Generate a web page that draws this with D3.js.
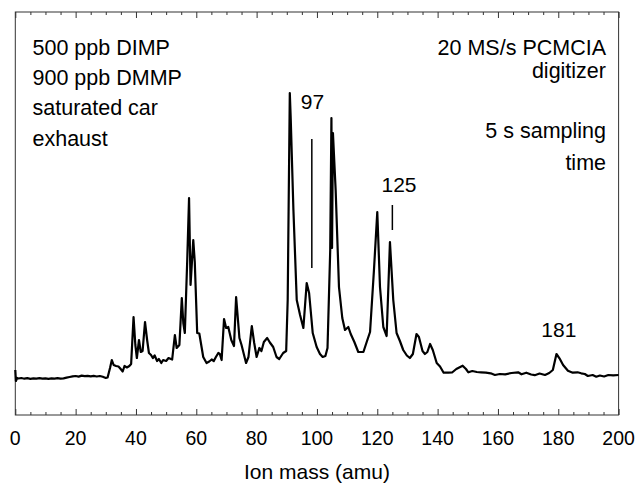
<!DOCTYPE html>
<html>
<head>
<meta charset="utf-8">
<script src="https://cdn.jsdelivr.net/npm/d3@7"></script>
<style>
  body { margin: 0; background: #fff; }
  svg { font-family: "Liberation Sans", Arial, Helvetica, sans-serif; }
</style>
</head>
<body>
<div class="graph-container"></div>
<script>
// spectrum (ion mass in amu, intensity in arbitrary units)
var masses = [0, 0.2, 0.6, 1, 2, 3, 4, 5, 6, 7, 8, 9, 10, 11, 12, 13, 14, 15, 16, 17, 18, 19, 20,
  21, 22, 23, 24, 25, 26, 27, 28, 29, 30, 30.6, 31.4, 32, 32.6, 33.4, 34.2, 34.8, 35.6, 36.2, 37,
  37.8, 38.4, 39.2, 39.8, 40.3, 41, 41.6, 42.2, 43, 43.7, 44.3, 45, 45.6, 46.2, 47, 47.6, 48.4, 49,
  50, 50.8, 52, 52.9, 53.5, 54.4, 55.2, 55.7, 56.2, 57, 57.6, 58.1, 59, 59.5, 60.3, 61, 62.3, 63.4,
  64.3, 65.1, 65.8, 66.5, 67.3, 67.8, 68.4, 69.2, 69.9, 70.6, 71.6, 72.5, 73.2, 74.3, 75, 76.5,
  77.3, 78.4, 79.2, 80, 80.9, 81.6, 82.4, 83.5, 84.4, 85.5, 86.6, 87.5, 88.8, 89.8, 90.3, 91, 91.3,
  92.2, 93.3, 94.4, 95.5, 96.6, 97.4, 98.6, 99.9, 101, 101.9, 102.8, 103.5, 104.4, 104.8, 105,
  105.3, 106.2, 107.3, 108.4, 109.3, 110.4, 111.2, 112.4, 113.7, 115.4, 116.6, 117.6, 118.9, 120,
  120.9, 122, 123.1, 124.2, 125.3, 126.4, 127.5, 128.6, 129.8, 130.8, 131.8, 133, 133.8, 135,
  135.8, 136.6, 137.5, 138.4, 139.7, 140.8, 142, 143.6, 144.8, 146.2, 148.3, 149.4, 150.2, 151.5,
  153, 154.4, 156, 157.6, 159, 160.6, 162.4, 164.5, 166.7, 167.8, 169.4, 171, 172.2, 173.8, 175.6,
  177, 178.2, 179.4, 180.4, 181.6, 183.2, 184.8, 186.4, 187.6, 188.8, 189.8, 191.4, 192.6, 193.8,
  195.2, 196.6, 198.2, 200];

var intensities = [45, 34, 37, 36.5, 37, 36.3, 36.8, 36.2, 36.7, 36.4, 36.9, 36.3, 36.7, 36.2, 36.6,
  36.4, 36.8, 36.3, 36.6, 37.4, 38, 38.6, 39, 38.4, 39.4, 38.8, 39.2, 38.6, 39.1, 38.5, 39, 38.2, 37,
  37.5, 47, 55, 50, 49, 48.5, 46.5, 43.5, 49, 47.5, 49, 51, 98, 70, 57, 75, 63, 64, 93, 75, 62, 60,
  57, 59.5, 54, 56, 52, 55, 54, 57, 55.5, 80, 67, 70, 117, 92, 82, 155, 217, 130, 175, 153, 82,
  81.5, 58, 52, 53.5, 55.5, 54, 58, 62, 61, 55, 96, 87, 88, 75, 69, 118, 77, 70, 52, 58, 89, 72, 58,
  67, 64, 73, 77, 72.5, 68, 58, 56, 62, 64, 115, 322, 297, 205, 115, 100, 87, 132, 122, 82, 68, 61,
  58, 59, 67, 165, 297, 167, 282, 225, 128, 97, 85, 88, 81, 73, 63, 63, 74, 83, 145, 203, 128, 88,
  79, 173, 115, 82, 74, 65, 59.5, 57, 61, 81, 78, 64, 61, 63, 71, 65, 52, 48.5, 42.3, 42.3, 42.5,
  46, 49.3, 46, 42.7, 44, 43, 42.7, 42.3, 41.7, 40, 41, 40.7, 42, 42.7, 40.7, 42.3, 40.5, 39.8, 41.5,
  40, 42, 45, 61, 56.7, 50, 44.3, 42.3, 42.7, 41.7, 41, 39, 40, 38.3, 39.5, 38.5, 40, 39.7, 40];

// peak labels and marker lines
var peakLabels = ['97', '125', '181'];
var peakLabelMass = [98.5, 127.2, 180.2];
var peakLabelLevel = [306, 223, 78];
var markerMass = [98.3, 125.0];
var markerLow = [147, 185];
var markerHigh = [276, 210];

// text blocks
var leftNotes = ['500 ppb DIMP', '900 ppb DMMP', 'saturated car', 'exhaust'];
var rightNotes = ['20 MS/s PCMCIA', 'digitizer', '5 s sampling', 'time'];

var xTicks = [0, 20, 40, 60, 80, 100, 120, 140, 160, 180, 200];
var xTitle = 'Ion mass (amu)';

var svgWidth = 635;
var svgHeight = 490;
var plotLeft = 15.3;
var plotRight = 618.6;
var plotTop = 12;
var plotBottom = 415;

var svg = d3.select('.graph-container').append('svg')
  .attr('width', svgWidth)
  .attr('height', svgHeight);

var xScale = d3.scaleLinear()
  .domain([0, 200])
  .range([plotLeft, plotRight]);

var yScale = d3.scaleLinear()
  .domain([0, 403])
  .range([plotBottom, plotTop]);

// frame
svg.append('rect')
  .attr('x', plotLeft)
  .attr('y', plotTop)
  .attr('width', plotRight - plotLeft)
  .attr('height', plotBottom - plotTop)
  .attr('fill', 'none')
  .attr('stroke', '#333')
  .attr('stroke-width', 1);

// bottom axis, ticks pointing inward
var minorTicks = d3.range(0, 201, 5);
var bottomAxis = d3.axisTop(xScale)
  .tickValues(minorTicks)
  .tickSizeInner(3)
  .tickSizeOuter(0)
  .tickFormat('');
var gb = svg.append('g')
  .attr('transform', 'translate(0,' + plotBottom + ')')
  .call(bottomAxis);
gb.select('.domain').remove();
gb.selectAll('.tick line')
  .attr('y2', function(d) { return d % 20 === 0 ? -6 : -3; })
  .attr('stroke', '#333');

// top axis, ticks pointing inward
var topAxis = d3.axisBottom(xScale)
  .tickValues(minorTicks)
  .tickSizeInner(3)
  .tickSizeOuter(0)
  .tickFormat('');
var gt = svg.append('g')
  .attr('transform', 'translate(0,' + plotTop + ')')
  .call(topAxis);
gt.select('.domain').remove();
gt.selectAll('.tick line')
  .attr('y2', function(d) { return d % 20 === 0 ? 6 : 3; })
  .attr('stroke', '#333');

// tick labels
svg.append('g').selectAll('text')
  .data(xTicks)
  .enter()
  .append('text')
  .attr('x', function(d) { return xScale(d); })
  .attr('y', 445)
  .attr('text-anchor', 'middle')
  .style('font-size', '19.5px')
  .text(function(d) { return d; });

// x-axis title
svg.append('text')
  .attr('x', (plotLeft + plotRight) / 2)
  .attr('y', 479)
  .attr('text-anchor', 'middle')
  .style('font-size', '21px')
  .text(xTitle);

// spectrum trace
var points = masses.map(function(m, i) { return [m, intensities[i]]; });
var line = d3.line()
  .x(function(d) { return xScale(d[0]); })
  .y(function(d) { return yScale(d[1]); });

svg.append('path')
  .datum(points)
  .attr('d', line)
  .attr('fill', 'none')
  .attr('stroke', '#000')
  .attr('stroke-width', 2.2)
  .attr('stroke-linejoin', 'round');

// marker lines above peaks
svg.append('g').selectAll('line')
  .data(markerMass)
  .enter()
  .append('line')
  .attr('x1', function(d) { return xScale(d); })
  .attr('x2', function(d) { return xScale(d); })
  .attr('y1', function(d, i) { return yScale(markerHigh[i]); })
  .attr('y2', function(d, i) { return yScale(markerLow[i]); })
  .attr('stroke', '#000')
  .attr('stroke-width', 1.5);

// peak labels
svg.append('g').selectAll('text')
  .data(peakLabels)
  .enter()
  .append('text')
  .attr('x', function(d, i) { return xScale(peakLabelMass[i]); })
  .attr('y', function(d, i) { return yScale(peakLabelLevel[i]); })
  .attr('text-anchor', 'middle')
  .style('font-size', '21px')
  .text(function(d) { return d; });

// notes
var leftY = [55, 84.5, 115, 145.5];
svg.append('g').selectAll('text')
  .data(leftNotes)
  .enter()
  .append('text')
  .attr('x', 32.5)
  .attr('y', function(d, i) { return leftY[i]; })
  .style('font-size', '21.5px')
  .text(function(d) { return d; });

var rightY = [55, 77.5, 138, 170];
svg.append('g').selectAll('text')
  .data(rightNotes)
  .enter()
  .append('text')
  .attr('x', 606)
  .attr('y', function(d, i) { return rightY[i]; })
  .attr('text-anchor', 'end')
  .style('font-size', '21.5px')
  .text(function(d) { return d; });
</script>
</body>
</html>
